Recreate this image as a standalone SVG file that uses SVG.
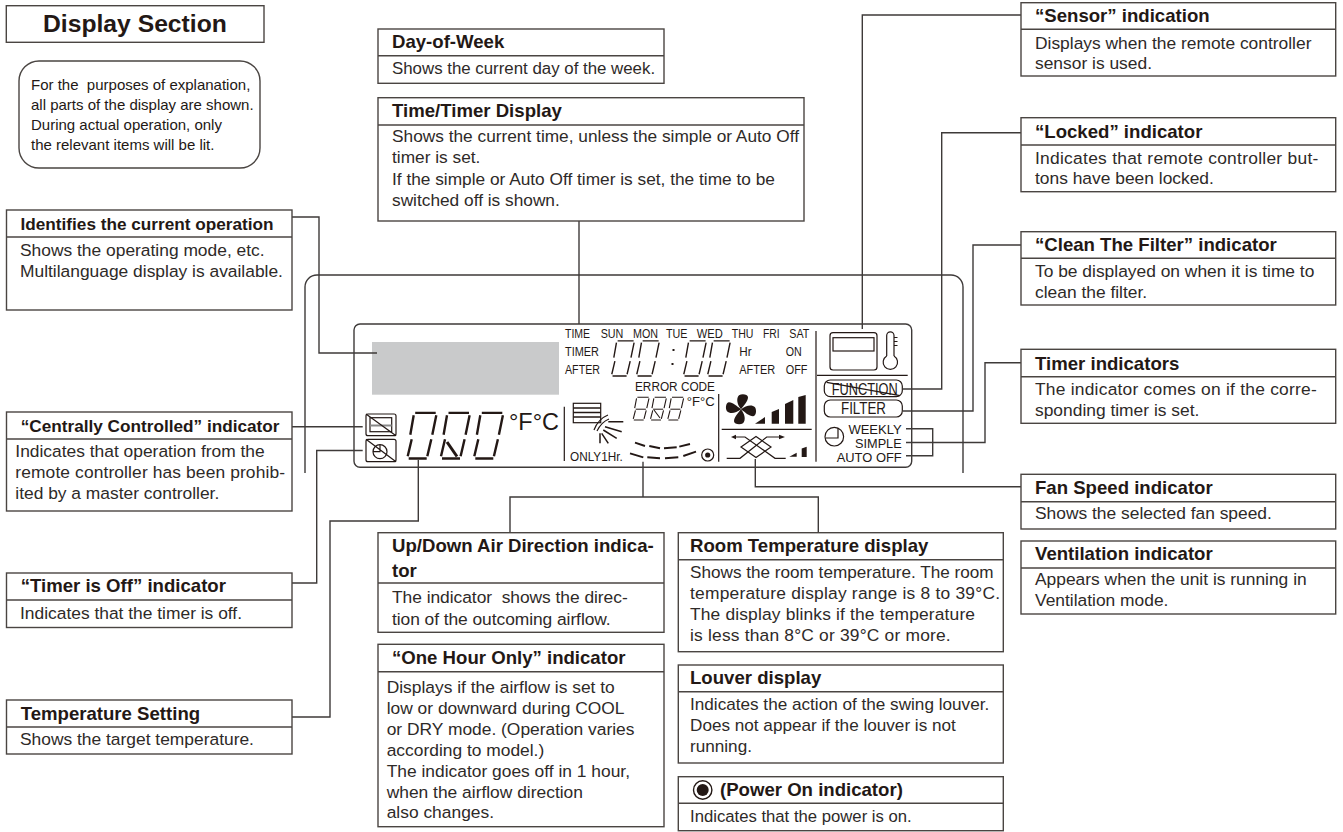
<svg xmlns="http://www.w3.org/2000/svg" width="1343" height="832" viewBox="0 0 1343 832">
<style>
text{font-family:"Liberation Sans",Arial,sans-serif;fill:#231815}
.h{font-size:18.6px;font-weight:700}
.hs{font-size:17.2px;font-weight:700}
.b{font-size:17.4px;fill:#2e2a28}
.bs{font-size:17.15px;fill:#2e2a28}
.n{font-size:15px;fill:#2e2a28}
.box{fill:#fff;stroke:#4a4542;stroke-width:1.4}
.div{fill:none;stroke:#4a4542;stroke-width:1.4}
.c{fill:none;stroke:#3e3a39;stroke-width:1.4}
.l{fill:none;stroke:#231815;stroke-width:1.2}
.s{fill:none;stroke:#231815;stroke-width:1.5}
.f{fill:#231815;stroke:none}
.t{font-size:12.5px}
.seg{fill:none;stroke:#231815;stroke-width:2.4}
.clk{stroke-width:1.8}
.sm{stroke-width:2}
.dash{fill:none;stroke:#231815;stroke-width:1.9}
</style>
<defs>
<g id="digit">
<path d="M8.5 1.2H29M7 3.5L3.6 23M29.6 3.5L25.6 23M5 27.5L1 44.5M24.6 27.5L20.6 44.5M2 46.8H20"/>
</g>
<g id="digitm">
<use href="#digit"/><path d="M5.5 25H24"/>
</g>
<path id="blade" d="M0 0C-4-5-5-11-2-14C1-16 7-15 7-12C7-8 3-4 0 0Z"/>
</defs>

<g id="controller-outline">
<path class="c" d="M305 473V287A12 12 0 0 1 317 275H951A12 12 0 0 1 963 287V473"/>
</g>

<g id="lcd-panel">
<rect x="354" y="324" width="557.7" height="143.3" rx="6" fill="#fff" stroke="#3e3a39" stroke-width="1.4"/>
<rect x="372" y="342" width="187" height="52.7" fill="#c9cacb"/>
</g>

<g id="connectors">
<path class="c" d="M292 217H319V353H377"/>
<path class="c" d="M292 426.7H362.7"/>
<path class="c" d="M292 583H316.7V450.5H362.7"/>
<path class="c" d="M292 717H330V521H418.3V460"/>
<path class="c" d="M579 221V324"/>
<path class="c" d="M643 461.7V497M510 533V497H818.3V533"/>
<path class="c" d="M755.3 459V486.7H1021"/>
<path class="c" d="M1021 15H862.3V329"/>
<path class="c" d="M1021 132.7H941.7V389H903"/>
<path class="c" d="M1021 245H973V411H903"/>
<path class="c" d="M1021 362.7H985V442.5H906"/>
<path class="c" d="M906 428.7H932.7V455.7H906"/>
</g>

<g id="lcd-central-icon">
<rect class="l" x="366" y="414" width="30" height="21.7" rx="2"/>
<rect class="l" x="370" y="417.7" width="21.7" height="14"/>
<path d="M370 425.5H391.7" stroke="#888" stroke-width="2" fill="none"/>
<path class="l" d="M366 414L396 435.7"/>
</g>
<g id="lcd-timeroff-icon">
<rect class="l" x="366" y="439.3" width="30" height="22.4" rx="2"/>
<circle class="l" cx="380" cy="451.7" r="7"/>
<path class="l" d="M380 444.7V451.7H373M366 439.3L396 461.7"/>
</g>

<g id="lcd-big-digits" class="seg">
<use href="#digit" transform="translate(406.7 411.7)"/>
<use href="#digit" transform="translate(440 411.7)"/>
<use href="#digit" transform="translate(473.3 411.7)"/>
<path d="M447 442L457 456.5" stroke-width="3"/>
</g>
<text id="lcd-big-unit" x="509" y="430" font-size="23.5" textLength="50" lengthAdjust="spacingAndGlyphs">°F°C</text>
<path id="lcd-sep-1" class="l" d="M564.3 406.7V461"/>

<g id="lcd-days" class="t">
<text x="565" y="338.3" textLength="25" lengthAdjust="spacingAndGlyphs">TIME</text>
<text x="600.7" y="338.3" textLength="22.7" lengthAdjust="spacingAndGlyphs">SUN</text>
<text x="633" y="338.3" textLength="25" lengthAdjust="spacingAndGlyphs">MON</text>
<text x="666" y="338.3" textLength="21.5" lengthAdjust="spacingAndGlyphs">TUE</text>
<text x="696.7" y="338.3" textLength="26" lengthAdjust="spacingAndGlyphs">WED</text>
<text x="731.7" y="338.3" textLength="21.7" lengthAdjust="spacingAndGlyphs">THU</text>
<text x="763" y="338.3" textLength="16.7" lengthAdjust="spacingAndGlyphs">FRI</text>
<text x="789.3" y="338.3" textLength="20" lengthAdjust="spacingAndGlyphs">SAT</text>
<text x="565" y="356" textLength="34" lengthAdjust="spacingAndGlyphs">TIMER</text>
<text x="565" y="374" textLength="35" lengthAdjust="spacingAndGlyphs">AFTER</text>
<text x="739.3" y="356" textLength="12.3" lengthAdjust="spacingAndGlyphs">Hr</text>
<text x="785.7" y="356" textLength="16" lengthAdjust="spacingAndGlyphs">ON</text>
<text x="739.3" y="374" textLength="36" lengthAdjust="spacingAndGlyphs">AFTER</text>
<text x="785.7" y="374" textLength="21.7" lengthAdjust="spacingAndGlyphs">OFF</text>
</g>

<g id="lcd-clock-digits" class="seg clk">
<use href="#digit" transform="translate(611 340) scale(.78 .77)"/>
<use href="#digit" transform="translate(636 340) scale(.78 .77)"/>
<use href="#digit" transform="translate(683 340) scale(.78 .77)"/>
<use href="#digit" transform="translate(707 340) scale(.78 .77)"/>
</g>
<g id="lcd-colon" class="f">
<rect x="672.5" y="349" width="2" height="2"/>
<rect x="671.5" y="363" width="2" height="2"/>
</g>

<text id="lcd-error" x="635" y="391" font-size="12.5" textLength="80" lengthAdjust="spacingAndGlyphs">ERROR CODE</text>
<g id="lcd-small-digits" class="seg sm">
<use href="#digitm" transform="translate(632.7 396.7) scale(.55 .5)"/>
<use href="#digitm" transform="translate(650 396.7) scale(.55 .5)"/>
<use href="#digitm" transform="translate(667.3 396.7) scale(.55 .5)"/>
<path d="M654 410L660 418" stroke-width="1.1"/>
</g>
<text id="lcd-small-unit" x="686.7" y="406" font-size="13.3" textLength="28" lengthAdjust="spacingAndGlyphs">°F°C</text>

<g id="lcd-louver">
<rect class="l" x="573.3" y="403.3" width="27.4" height="19.4"/>
<path class="s" d="M573.3 408H600.7M573.3 412.5H600.7M573.3 417H600.7"/>
<path class="l" d="M594 430C597 422 603 417 608 415M597 431C600 425 604 421 609 419"/>
<path class="s" d="M608.3 421.7H623.3M605 426.7L621.7 431.7M603.3 430L616.7 438.3M601.7 433.3L608.3 443.3M600 433.3V443.3"/>
<text x="570" y="460.7" font-size="12.5" textLength="52.7" lengthAdjust="spacingAndGlyphs">ONLY1Hr.</text>
</g>

<g id="lcd-swing" class="dash">
<path d="M635 442.7L645 446M649.3 446L660 448.3M664 448.3L676.7 447.3M679.3 446.7L690 444"/>
<path d="M630 453.3L643.3 457.3M647.3 457.3L660 458.3M665 458.3L678.3 457.3M683.3 456L696 451.7"/>
</g>
<g id="lcd-power">
<circle class="l" cx="707.7" cy="455" r="6"/>
<circle class="f" cx="707.7" cy="455" r="2.6"/>
</g>

<path id="lcd-sep-2" class="l" d="M718.7 394V461.7M721.7 429.3H811.7"/>

<g id="lcd-fan" class="f">
<g transform="translate(741 409.3)">
<use href="#blade"/>
<use href="#blade" transform="rotate(90)"/>
<use href="#blade" transform="rotate(180)"/>
<use href="#blade" transform="rotate(270)"/>
</g>
<polygon points="755,423.7 765,417 765,423.7"/>
<polygon points="771.7,412 779,409 779,423.7 771.7,423.7"/>
<polygon points="785,404 793.3,400 793.3,423.7 785,423.7"/>
<polygon points="798.3,397 805.7,395 805.7,423.7 798.3,423.7"/>
</g>

<g id="lcd-vent">
<path class="l" d="M726.7 458.3H740L766.7 437H780M735 437H745L775 458.3H785.7"/>
<path class="l" d="M741 447L756 436.5L771 447L756 457.5Z"/>
<polygon class="f" points="731,437 736,434.8 736,439.2"/>
<polygon class="f" points="785,437 779,434.8 779,439.2"/>
<polygon class="f" points="789.3,456.7 796.7,452.7 796.7,456.7"/>
<polygon class="f" points="801.7,448.5 806.7,446.7 806.7,457 801.7,457"/>
</g>

<path id="lcd-sep-3" class="l" d="M816 331V461.7M817 375.3H907.7"/>

<g id="lcd-sensor">
<rect class="l" x="830" y="332.7" width="47" height="37.3" rx="3"/>
<rect class="l" x="833" y="337.7" width="41" height="13.3"/>
<path class="l" d="M886.7 356V335.5A3.6 3.6 0 0 1 894 335.5V356M894 337.5H897.5M894 341.5H897.5M894 345.5H897.5"/>
<path class="l" d="M886.7 356A7.2 7.2 0 1 0 894 356"/>
</g>
<g id="lcd-function">
<rect class="l" x="824.3" y="380" width="78" height="16.7" rx="6"/>
<text x="831.7" y="395" font-size="16" textLength="66" lengthAdjust="spacingAndGlyphs">FUNCTION</text>
<path class="l" d="M826.7 382.3L900 395.7"/>
</g>
<g id="lcd-filter">
<rect class="l" x="824.3" y="400" width="78" height="17" rx="6"/>
<text x="841" y="414.3" font-size="16" textLength="45" lengthAdjust="spacingAndGlyphs">FILTER</text>
</g>
<g id="lcd-timers">
<circle class="l" cx="834.3" cy="436.7" r="9.3"/>
<path class="l" d="M838 428V438H826"/>
<text x="848.4" y="433.7" font-size="13.5" textLength="53.3" lengthAdjust="spacingAndGlyphs">WEEKLY</text>
<text x="855" y="447.7" font-size="13.5" textLength="46.7" lengthAdjust="spacingAndGlyphs">SIMPLE</text>
<text x="836.7" y="461.7" font-size="13.5" textLength="65" lengthAdjust="spacingAndGlyphs">AUTO OFF</text>
</g>

<g id="display-section">
<rect class="box" x="6.3" y="5.7" width="257.7" height="36.6"/>
<text x="43" y="31.7" font-size="24.7" font-weight="700">Display Section</text>
</g>
<g id="note">
<rect class="box" x="19" y="61" width="241" height="107" rx="20"/>
<g class="n">
<text x="31" y="90" xml:space="preserve">For the  purposes of explanation,</text>
<text x="31" y="110">all parts of the display are shown.</text>
<text x="31" y="130">During actual operation, only</text>
<text x="31" y="150">the relevant items will be lit.</text>
</g>
</g>

<g id="identifies">
<rect class="box" x="6.5" y="210" width="285.5" height="100"/>
<path class="div" d="M6.5 237H292"/>
<text class="hs" x="20.5" y="230">Identifies the current operation</text>
<text class="b" x="20" y="256">Shows the operating mode, etc.</text>
<text class="b" x="20" y="277">Multilanguage display is available.</text>
</g>
<g id="centrally">
<rect class="box" x="6.5" y="412" width="285.5" height="99"/>
<path class="div" d="M6.5 439H292"/>
<text class="hs" x="20.7" y="432">“Centrally Controlled” indicator</text>
<text class="b" x="15.3" y="457">Indicates that operation from the</text>
<text class="b" x="15.3" y="478" textLength="269.7">remote controller has been prohib-</text>
<text class="b" x="15.3" y="499">ited by a master controller.</text>
</g>
<g id="timer-off">
<rect class="box" x="6.5" y="573" width="285.5" height="54.5"/>
<path class="div" d="M6.5 600H292"/>
<text class="h" x="20.7" y="592">“Timer is Off” indicator</text>
<text class="b" x="20" y="618.5">Indicates that the timer is off.</text>
</g>
<g id="temp-setting">
<rect class="box" x="6.5" y="700" width="285.5" height="54"/>
<path class="div" d="M6.5 727H292"/>
<text class="h" x="20.7" y="720">Temperature Setting</text>
<text class="b" x="20" y="745">Shows the target temperature.</text>
</g>

<g id="day-of-week">
<rect class="box" x="378" y="29" width="286" height="54.3"/>
<path class="div" d="M378 55.7H664"/>
<text class="h" x="392" y="48">Day-of-Week</text>
<text class="b" x="392" y="74" style="font-size:16.85px">Shows the current day of the week.</text>
</g>
<g id="time-timer">
<rect class="box" x="378" y="97.7" width="426" height="123.3"/>
<path class="div" d="M378 125H804"/>
<text class="h" x="392" y="117.3">Time/Timer Display</text>
<text class="b" x="392" y="141.7" style="font-size:17.3px">Shows the current time, unless the simple or Auto Off</text>
<text class="b" x="392" y="163" style="font-size:17.3px">timer is set.</text>
<text class="b" x="392" y="185" style="font-size:17.3px">If the simple or Auto Off timer is set, the time to be</text>
<text class="b" x="392" y="205.7" style="font-size:17.3px">switched off is shown.</text>
</g>
<g id="up-down">
<rect class="box" x="378" y="532.7" width="286" height="99.6"/>
<path class="div" d="M378 583H664"/>
<text class="h" x="392" y="551.7">Up/Down Air Direction indica-</text>
<text class="h" x="392" y="576.7">tor</text>
<text class="b" x="392" y="603" xml:space="preserve" textLength="235.7">The indicator  shows the direc-</text>
<text class="b" x="392" y="625" textLength="218.7">tion of the outcoming airflow.</text>
</g>
<g id="one-hour">
<rect class="box" x="378" y="644.3" width="286" height="182.4"/>
<path class="div" d="M378 671.7H664"/>
<text class="h" x="392" y="664">“One Hour Only” indicator</text>
<text class="b" x="386.7" y="693.3">Displays if the airflow is set to</text>
<text class="b" x="386.7" y="714.3">low or downward during COOL</text>
<text class="b" x="386.7" y="735">or DRY mode. (Operation varies</text>
<text class="b" x="386.7" y="756">according to model.)</text>
<text class="b" x="386.7" y="776.7">The indicator goes off in 1 hour,</text>
<text class="b" x="386.7" y="797.7">when the airflow direction</text>
<text class="b" x="386.7" y="818">also changes.</text>
</g>
<g id="room-temp">
<rect class="box" x="678.3" y="532.7" width="325" height="119"/>
<path class="div" d="M678.3 559.7H1003.3"/>
<text class="h" x="690" y="551.7">Room Temperature display</text>
<text class="bs" x="690" y="577.7">Shows the room temperature. The room</text>
<text class="b" x="690" y="599" textLength="310">temperature display range is 8 to 39°C.</text>
<text class="b" x="690" y="620" textLength="285">The display blinks if the temperature</text>
<text class="b" x="690" y="641" textLength="260.7">is less than 8°C or 39°C or more.</text>
</g>
<g id="louver">
<rect class="box" x="678.3" y="665" width="325" height="98"/>
<path class="div" d="M678.3 691.7H1003.3"/>
<text class="h" x="690" y="684">Louver display</text>
<text class="bs" x="690" y="710">Indicates the action of the swing louver.</text>
<text class="bs" x="690" y="731">Does not appear if the louver is not</text>
<text class="bs" x="690" y="751.7">running.</text>
</g>
<g id="power-on">
<rect class="box" x="678.3" y="776.7" width="325" height="54"/>
<path class="div" d="M678.3 803.3H1003.3"/>
<circle cx="702.7" cy="790" r="9.2" fill="#fff" stroke="#231815" stroke-width="1.4"/>
<circle class="f" cx="702.7" cy="790" r="6"/>
<text class="h" x="720" y="796">(Power On indicator)</text>
<text class="b" x="690" y="821.7" style="font-size:16.7px">Indicates that the power is on.</text>
</g>

<g id="sensor">
<rect class="box" x="1021" y="2.7" width="314.7" height="73.3"/>
<path class="div" d="M1021 29.3H1335.7"/>
<text class="h" x="1035" y="22">“Sensor” indication</text>
<text class="b" x="1035" y="49">Displays when the remote controller</text>
<text class="b" x="1035" y="69">sensor is used.</text>
</g>
<g id="locked">
<rect class="box" x="1021" y="117.7" width="314.7" height="74"/>
<path class="div" d="M1021 145H1335.7"/>
<text class="h" x="1035" y="137.7">“Locked” indicator</text>
<text class="b" x="1035" y="164" textLength="283.3">Indicates that remote controller but-</text>
<text class="b" x="1035" y="184.3">tons have been locked.</text>
</g>
<g id="clean-filter">
<rect class="box" x="1021" y="231.7" width="314.7" height="73.3"/>
<path class="div" d="M1021 258.3H1335.7"/>
<text class="h" x="1035" y="250.7">“Clean The Filter” indicator</text>
<text class="b" x="1035" y="276.7">To be displayed on when it is time to</text>
<text class="b" x="1035" y="297.7">clean the filter.</text>
</g>
<g id="timer-indicators">
<rect class="box" x="1021" y="349.3" width="314.7" height="74"/>
<path class="div" d="M1021 376.7H1335.7"/>
<text class="h" x="1035" y="370">Timer indicators</text>
<text class="b" x="1035" y="395" textLength="281.7">The indicator comes on if the corre-</text>
<text class="b" x="1035" y="416">sponding timer is set.</text>
</g>
<g id="fan-speed">
<rect class="box" x="1021" y="474.3" width="314.7" height="54.7"/>
<path class="div" d="M1021 501.7H1335.7"/>
<text class="h" x="1035" y="494">Fan Speed indicator</text>
<text class="b" x="1035" y="519.3">Shows the selected fan speed.</text>
</g>
<g id="ventilation">
<rect class="box" x="1021" y="541" width="314.7" height="73"/>
<path class="div" d="M1021 568H1335.7"/>
<text class="h" x="1035" y="560">Ventilation indicator</text>
<text class="b" x="1035" y="585">Appears when the unit is running in</text>
<text class="b" x="1035" y="606">Ventilation mode.</text>
</g>
</svg>
